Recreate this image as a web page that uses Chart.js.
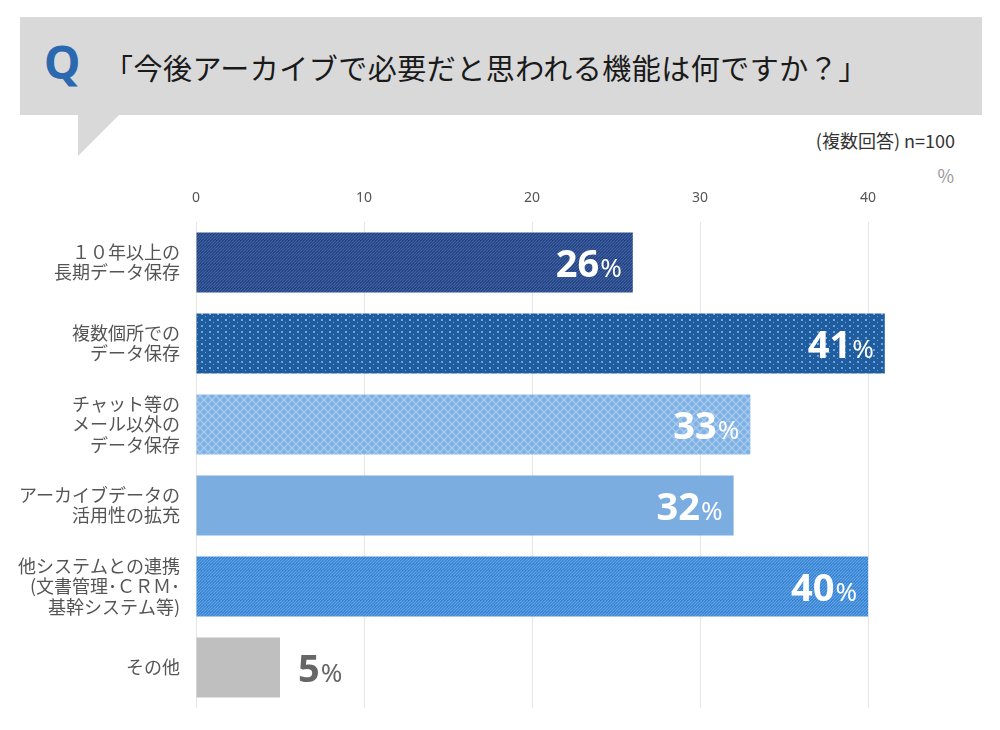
<!DOCTYPE html>
<html>
<head>
<meta charset="utf-8">
<script src="https://cdn.jsdelivr.net/npm/chart.js@4"></script>
<style>
  body { margin: 0; background: #fff; }
  #wrap { position: relative; width: 1000px; height: 730px; overflow: hidden; font-family: "Noto Sans CJK JP", "Noto Sans", sans-serif; }
  #bubble { position: absolute; left: 20px; top: 17px; width: 962px; height: 98px; background: #d9d9d9; }
  #tail { position: absolute; left: 78px; top: 114px; width: 42px; height: 42px; background: #d9d9d9; clip-path: polygon(0 0, 100% 0, 0 100%); }
  #q { position: absolute; left: 44px; top: 30px; font: bold 46px "Noto Sans", sans-serif; color: #2a69b0; }
  #title { position: absolute; left: 104px; top: 46px; font-size: 29px; color: #1a1a1a; letter-spacing: 0.5px; }
  #note { position: absolute; right: 45px; top: 127px; font-size: 18px; color: #333; }
  #unit { position: absolute; right: 46px; top: 162px; font-size: 18px; color: #999; }
  canvas { position: absolute; left: 0; top: 0; }
</style>
</head>
<body>
<div id="wrap">
  <div id="bubble"></div>
  <div id="tail"></div>
  <div id="q">Q</div>
  <div id="title">「今後アーカイブで必要だと思われる機能は何ですか？」</div>
  <div id="note">(複数回答) n=100</div>
  <div id="unit">%</div>
  <canvas id="chart" width="1000" height="730"></canvas>
</div>
<script>
var categories = [
    ['１０年以上の', '長期データ保存'],
    ['複数個所での', 'データ保存'],
    ['チャット等の', 'メール以外の', 'データ保存'],
    ['アーカイブデータの', '活用性の拡充'],
    ['他システムとの連携', '(文書管理･ＣＲＭ･', '基幹システム等)'],
    'その他'
];
var values = [26, 41, 33, 32, 40, 5];
var xTicks = [0, 10, 20, 30, 40];

// patterned fills like the original bars
function makePattern(kind) {
    var c = document.createElement('canvas');
    var g = c.getContext('2d');
    if (kind === 'stripeDark' || kind === 'stripeMid') {
        c.width = 6; c.height = 6;
        g.fillStyle = kind === 'stripeDark' ? '#1b3570' : '#2874c8';
        g.fillRect(0, 0, 6, 6);
        g.strokeStyle = kind === 'stripeDark' ? '#3f63a6' : '#5fa3e6';
        g.lineWidth = 1.3;
        for (var i = -6; i <= 12; i += 3) {
            g.beginPath(); g.moveTo(i, 6); g.lineTo(i + 6, 0); g.stroke();
        }
    } else if (kind === 'dots') {
        c.width = 8; c.height = 6;
        g.fillStyle = '#1f5d9f';
        g.fillRect(0, 0, 8, 6);
        g.fillStyle = '#6ea2dc';
        g.fillRect(1, 1, 2, 2);
        g.fillRect(5, 4, 1, 1);
    } else if (kind === 'diamond') {
        c.width = 8; c.height = 8;
        g.fillStyle = '#80b1e3';
        g.fillRect(0, 0, 8, 8);
        g.strokeStyle = '#a9cdf0';
        g.lineWidth = 1.2;
        g.beginPath(); g.moveTo(0, 4); g.lineTo(4, 0); g.lineTo(8, 4); g.lineTo(4, 8); g.closePath(); g.stroke();
    }
    return g.createPattern(c, 'repeat');
}

var fills = [
    makePattern('stripeDark'),
    makePattern('dots'),
    makePattern('diamond'),
    '#7badE0',
    makePattern('stripeMid'),
    '#bfbfbf'
];

var valueLabels = {
    id: 'valueLabels',
    afterDatasetsDraw: function (chart) {
        var ctx = chart.ctx;
        var meta = chart.getDatasetMeta(0);
        meta.data.forEach(function (bar, i) {
            var v = values[i];
            ctx.save();
            ctx.textBaseline = 'alphabetic';
            var numFont = 'bold 38px "Noto Sans", sans-serif';
            var pctFont = '26px "Noto Sans", sans-serif';
            ctx.font = pctFont;
            var pw = ctx.measureText('%').width;
            ctx.font = numFont;
            var nw = ctx.measureText(String(v)).width;
            var base = bar.y + 14;
            var x;
            if (v >= 10) {
                ctx.fillStyle = '#fff';
                x = bar.x - 12 - pw - nw;
            } else {
                ctx.fillStyle = '#666';
                x = bar.x + 18;
            }
            ctx.textAlign = 'left';
            ctx.fillText(String(v), x, base);
            ctx.font = pctFont;
            ctx.fillText('%', x + nw + 1, base);
            ctx.restore();
        });
    }
};

var chart = new Chart(document.getElementById('chart'), {
    type: 'bar',
    data: {
        labels: categories,
        datasets: [{
            data: values,
            backgroundColor: fills,
            borderWidth: 0,
            barPercentage: 1,
            categoryPercentage: 0.74
        }]
    },
    options: {
        indexAxis: 'y',
        responsive: false,
        animation: false,
        layout: { padding: { top: 150, right: 48, bottom: 22, left: 0 } },
        plugins: { legend: { display: false }, tooltip: { enabled: false } },
        scales: {
            x: {
                position: 'top',
                min: 0,
                max: 45,
                afterBuildTicks: function (scale) {
                    scale.ticks = xTicks.map(function (v) { return { value: v }; });
                },
                afterFit: function (scale) { scale.height = 72; },
                grid: { color: '#e6e6e6', drawTicks: false },
                border: { display: false },
                ticks: {
                    padding: 16,
                    color: '#555',
                    font: { size: 14, family: '"Noto Sans", sans-serif' }
                }
            },
            y: {
                afterFit: function (scale) {
                    scale.width = 196;
                    scale.paddingTop = 0;
                    scale.paddingBottom = 0;
                },
                grid: { display: false },
                border: { display: false },
                ticks: {
                    padding: 8,
                    color: '#555',
                    font: { size: 18, family: '"Noto Sans CJK JP", sans-serif', lineHeight: 1.12 }
                }
            }
        }
    },
    plugins: [valueLabels]
});
</script>
</body>
</html>
